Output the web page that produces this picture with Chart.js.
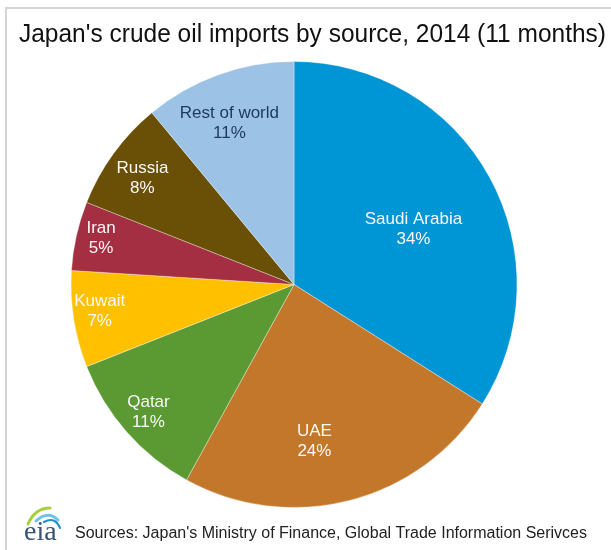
<!DOCTYPE html>
<html>
<head>
<meta charset="utf-8">
<script src="https://cdn.jsdelivr.net/npm/chart.js@4.4.1/dist/chart.umd.min.js"></script>
<style>
  html, body { margin: 0; padding: 0; background: #fff; }
  #wrap { width: 611px; height: 550px; position: relative; }
</style>
</head>
<body>
<div id="wrap"><canvas id="myCanvas" width="611" height="550"></canvas></div>
<script>
// crude oil imports, share by source (percent)
var sources = ['Saudi Arabia', 'UAE', 'Qatar', 'Kuwait', 'Iran', 'Russia', 'Rest of world'];
var shares = [34, 24, 11, 7, 5, 8, 11];
var colors = ['#0095d5', '#c3772b', '#5b9a32', '#ffc000', '#a42f42', '#6a5007', '#9cc3e6'];

var titleText = "Japan's crude oil imports by source, 2014 (11 months)";
var sourceText = "Sources: Japan's Ministry of Finance, Global Trade Information Serivces";

// label placement: fraction of radius, and a small turn (degrees) off the slice middle
var labelRadius = [0.59, 0.71, 0.87, 0.88, 0.89, 0.83, 0.78];
var labelTurn = [4, 7, 0, 1, 1, -1, -2];
var labelColor = ['#f8f8f8', '#f8f8f8', '#f8f8f8', '#f8f8f8', '#f8f8f8', '#f8f8f8', '#1f3a60'];

var decorations = {
  id: 'decorations',
  beforeDraw: function(chart) {
    var ctx = chart.ctx;
    ctx.save();
    ctx.fillStyle = '#fff';
    ctx.fillRect(0, 0, chart.width, chart.height);
    // frame
    ctx.strokeStyle = '#d4d4d4';
    ctx.lineWidth = 2;
    ctx.beginPath();
    ctx.moveTo(6, 550);
    ctx.lineTo(6, 8);
    ctx.lineTo(611, 8);
    ctx.stroke();
    ctx.restore();
  },
  afterDraw: function(chart) {
    var ctx = chart.ctx;
    ctx.save();
    // title
    ctx.fillStyle = '#111';
    ctx.font = '25px "Liberation Sans", Arial, sans-serif';
    ctx.textBaseline = 'alphabetic';
    ctx.textAlign = 'left';
    ctx.fillText(titleText, 19, 42, 587);

    // slice labels
    var meta = chart.getDatasetMeta(0);
    ctx.font = '17px "Liberation Sans", Arial, sans-serif';
    ctx.textAlign = 'center';
    ctx.textBaseline = 'middle';
    meta.data.forEach(function(arc, i) {
      var mid = (arc.startAngle + arc.endAngle) / 2 + labelTurn[i] * Math.PI / 180;
      var r = arc.outerRadius * labelRadius[i];
      var x = arc.x + Math.cos(mid) * r;
      var y = arc.y + Math.sin(mid) * r;
      ctx.fillStyle = labelColor[i];
      ctx.fillText(sources[i], x, y - 10);
      ctx.fillText(shares[i] + '%', x, y + 10);
    });

    // eia logo
    ctx.lineCap = 'round';
    ctx.lineWidth = 3;
    ctx.strokeStyle = '#a6cf3e';
    ctx.beginPath();
    ctx.moveTo(28, 524);
    ctx.quadraticCurveTo(35, 508, 50, 508);
    ctx.stroke();
    ctx.strokeStyle = '#6cc4e8';
    ctx.beginPath();
    ctx.moveTo(36, 521);
    ctx.quadraticCurveTo(48, 510, 58, 520);
    ctx.stroke();
    ctx.strokeStyle = '#1e8fcb';
    ctx.lineWidth = 2;
    ctx.beginPath();
    ctx.moveTo(44, 522);
    ctx.quadraticCurveTo(55, 516, 60, 528);
    ctx.stroke();
    ctx.fillStyle = '#3a5275';
    ctx.font = '28px "Liberation Serif", "DejaVu Serif", serif';
    ctx.textAlign = 'left';
    ctx.textBaseline = 'alphabetic';
    ctx.fillText('eia', 24, 540);

    // source note
    ctx.fillStyle = '#222';
    ctx.font = '16px "Liberation Sans", Arial, sans-serif';
    ctx.fillText(sourceText, 75, 538, 516);
    ctx.restore();
  }
};

var ctx = document.getElementById('myCanvas');
var pieChart = new Chart(ctx, {
  type: 'pie',
  data: {
    labels: sources,
    datasets: [{
      data: shares,
      backgroundColor: colors,
      borderColor: 'rgba(255,255,255,0.35)',
      borderWidth: 1
    }]
  },
  options: {
    responsive: false,
    animation: false,
    layout: { padding: { left: 70, right: 93, top: 61, bottom: 42 } },
    plugins: {
      legend: { display: false },
      title: { display: false },
      tooltip: { enabled: false }
    }
  },
  plugins: [decorations]
});
</script>
</body>
</html>
